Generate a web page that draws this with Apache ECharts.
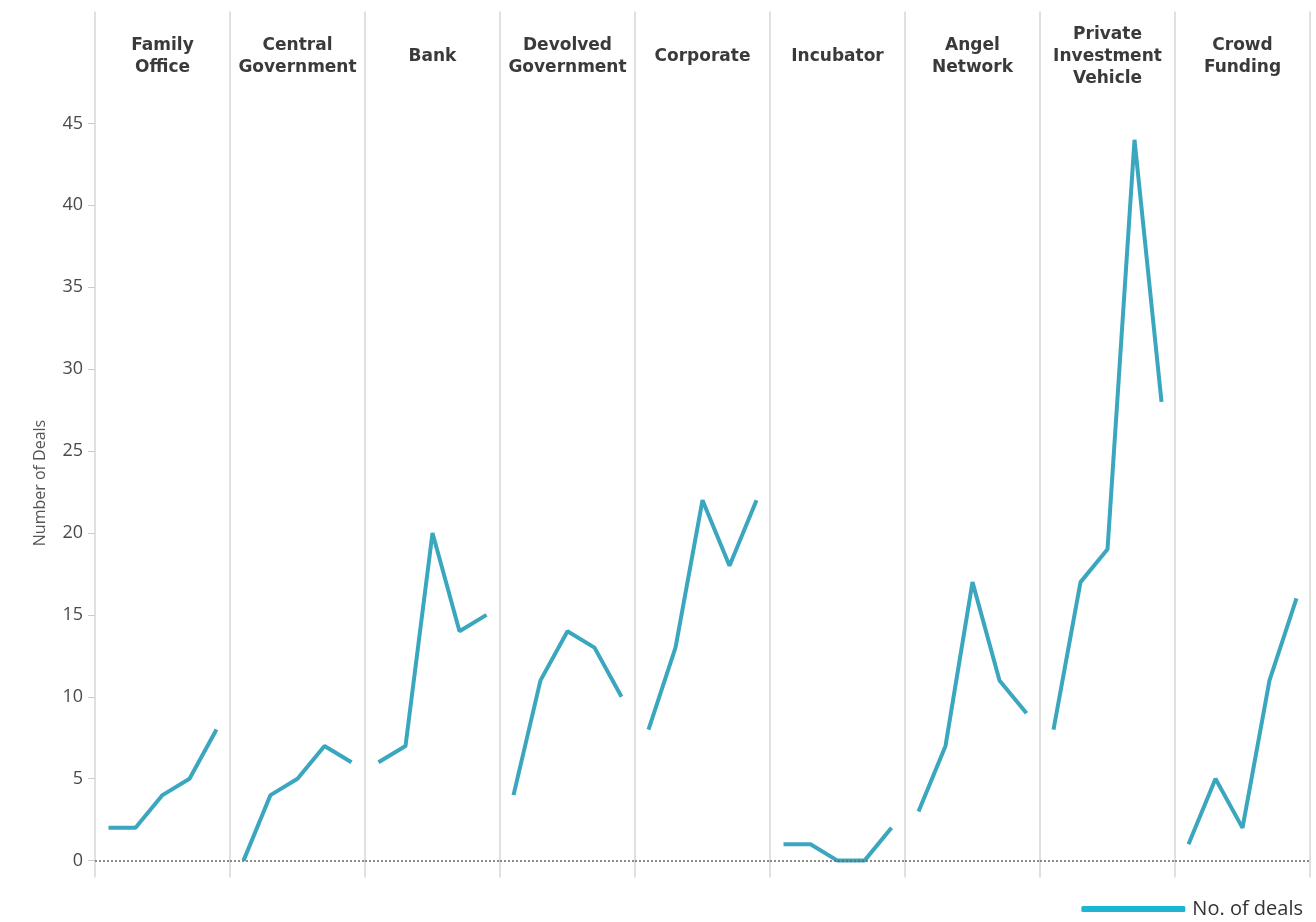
<!DOCTYPE html>
<html>
<head>
<meta charset="utf-8">
<script src="https://cdn.jsdelivr.net/npm/echarts@6/dist/echarts.min.js"></script>
<style>
html,body{margin:0;padding:0;background:#fff;}
#chart{width:1316px;height:922px;}
</style>
</head>
<body>
<div id="chart"></div>
<script>
// ---- data ----
const panels = ['Family\nOffice', 'Central\nGovernment', 'Bank', 'Devolved\nGovernment', 'Corporate', 'Incubator', 'Angel\nNetwork', 'Private\nInvestment\nVehicle', 'Crowd\nFunding'];
const pointsPerPanel = ['1', '2', '3', '4', '5'];
const familyOffice = [2, 2, 4, 5, 8];
const centralGovernment = [0, 4, 5, 7, 6];
const bank = [6, 7, 20, 14, 15];
const devolvedGovernment = [4, 11, 14, 13, 10];
const corporate = [8, 13, 22, 18, 22];
const incubator = [1, 1, 0, 0, 2];
const angelNetwork = [3, 7, 17, 11, 9];
const privateInvestmentVehicle = [8, 17, 19, 44, 28];
const crowdFunding = [1, 5, 2, 11, 16];
const yTicks = [0, 5, 10, 15, 20, 25, 30, 35, 40, 45];
const seriesName = 'No. of deals';
const yTitle = 'Number of Deals';

const allValues = [familyOffice, centralGovernment, bank, devolvedGovernment, corporate, incubator, angelNetwork, privateInvestmentVehicle, crowdFunding];

// ---- layout ----
const plotLeft = 95, plotRight = 1310, plotTop = 12, plotBottom = 877;
const yMin = -1, yMax = 51.8;
const panelW = (plotRight - plotLeft) / panels.length;
const lineColor = '#3aa7be';
const sepColor = '#d6d6d6';

const grids = [], xAxes = [], yAxes = [], series = [], graphics = [];
panels.forEach((name, i) => {
  const left = plotLeft + i * panelW;
  grids.push({left: left, width: panelW, top: plotTop, height: plotBottom - plotTop, containLabel: false});
  xAxes.push({
    type: 'category', gridIndex: i, data: pointsPerPanel, boundaryGap: true,
    axisLine: {show: false}, axisTick: {show: false}, axisLabel: {show: false}, splitLine: {show: false}
  });
  yAxes.push({
    type: 'value', gridIndex: i, min: yMin, max: yMax,
    axisLine: {show: true, lineStyle: {color: sepColor, width: 1.5}},
    axisTick: {show: i === 0, length: 7, lineStyle: {color: '#ccc'}, customValues: yTicks},
    axisLabel: {show: i === 0, customValues: yTicks, color: '#4a4a4a', fontSize: 18, fontFamily: 'Open Sans', margin: 12},
    splitLine: {show: false}
  });
  series.push({
    type: 'line', name: seriesName, xAxisIndex: i, yAxisIndex: i,
    data: allValues[i], symbol: 'none', smooth: false,
    lineStyle: {color: lineColor, width: 4}, itemStyle: {color: '#1fb4cf'},
    markLine: {
      silent: true, symbol: 'none', label: {show: false},
      lineStyle: {type: [2, 2], color: '#666', width: 1.5},
      data: [{yAxis: 0}]
    },
    z: 3
  });
  graphics.push({
    type: 'text', x: left + panelW / 2, y: 57,
    style: {text: name, align: 'center', verticalAlign: 'middle', fill: '#3a3a3a',
      fontFamily: 'DejaVu Sans', fontWeight: 'bold', fontSize: 17, lineHeight: 22}
  });
});
// y axis title
graphics.push({
  type: 'text', x: 40, y: 483, rotation: Math.PI / 2,
  style: {text: yTitle, align: 'center', verticalAlign: 'middle', fill: '#555',
    fontFamily: 'Open Sans', fontSize: 16}
});
// right edge separator
yAxes.push({
  type: 'value', gridIndex: panels.length - 1, min: yMin, max: yMax, position: 'right',
  axisLine: {show: true, lineStyle: {color: sepColor, width: 1.5}},
  axisTick: {show: false}, axisLabel: {show: false}, splitLine: {show: false}
});

const chart = echarts.init(document.getElementById('chart'));
chart.setOption({
  backgroundColor: '#fff',
  animation: false,
  grid: grids,
  xAxis: xAxes,
  yAxis: yAxes,
  series: series,
  graphic: graphics,
  legend: {
    data: [{name: seriesName}], right: 8, top: 894,
    icon: 'roundRect', itemWidth: 104, itemHeight: 6, itemGap: 0,
    textStyle: {color: '#333', fontSize: 20, fontFamily: 'Open Sans', padding: [0, 0, 0, 2]}
  }
});
</script>
</body>
</html>
